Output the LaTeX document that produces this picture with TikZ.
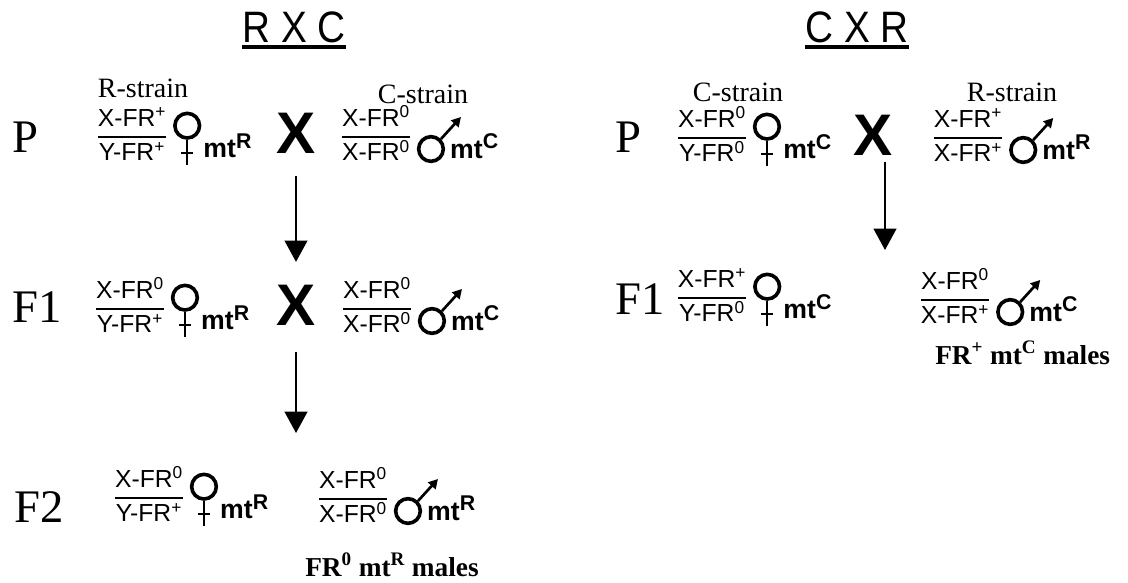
\documentclass[tikz,border=0pt]{standalone}
\usepackage{fontspec}
\setmainfont{Liberation Serif}
\newfontfamily\arial{Liberation Sans}
\usetikzlibrary{positioning,arrows.meta,calc}
\setlength{\arrayrulewidth}{2pt}
\newcommand{\gfrac}[2]{\begin{tabular}{@{}c@{}}#1\\\hline #2\end{tabular}}
\newcommand{\fp}{FR\textsuperscript{+}}
\newcommand{\fz}{FR\textsuperscript{0}}
\newcommand{\mtsup}[1]{mt\raisebox{7pt}{\fontsize{16}{16}\selectfont #1}}

\begin{document}
\begin{tikzpicture}[
  x=0.75pt, y=-0.75pt,
  gen/.style={font=\arial\fontsize{18.5}{24}\selectfont, inner sep=0pt},
  ttl/.style={font=\arial\fontsize{33}{36}\selectfont, inner sep=0pt, anchor=base},
  gener/.style={font=\fontsize{35}{38}\selectfont, inner sep=0pt, anchor=base west},
  strain/.style={font=\fontsize{21}{24}\selectfont, inner sep=0pt},
  cross/.style={font=\arial\bfseries\fontsize{44}{48}\selectfont, inner sep=0pt},
  venus/.style={circle, draw, line width=2.7pt, minimum size=18.5pt, inner sep=0pt},
  mars/.style={circle, draw, line width=2.7pt, minimum size=18.5pt, inner sep=0pt},
  stem/.style={line width=1.7pt},
  marsarr/.style={line width=2pt, -{Triangle[length=7pt, width=7.5pt]}},
  mtlab/.style={font=\arial\bfseries\fontsize{20}{22}\selectfont, inner sep=0pt, anchor=base west},
  males/.style={font=\bfseries\fontsize{20.5}{24}\selectfont, inner sep=0pt, anchor=base west},
  uline/.style={line width=2.4pt},
  arr/.style={line width=1.6pt, -{Triangle[length=16pt, width=17pt]}}
]
\useasboundingbox (0,0) rectangle (1128,582);
% titles
\node[ttl] (tRC) at (294,42) {\scalebox{0.88}[1]{R X C}};
\node[ttl] (tCR) at (857,42) {\scalebox{0.88}[1]{C X R}};
\draw[uline] ($(tRC.base west)+(0,5)$) -- ($(tRC.base east)+(0,5)$);
\draw[uline] ($(tCR.base west)+(0,5)$) -- ($(tCR.base east)+(0,5)$);
% generations
\node[gener] (gP)   at (12,152)  {P};
\node[gener] (gF1)  at (12,322)  {F1};
\node[gener] (gF2)  at (14,522)  {F2};
\node[gener] (gPr)  at (615,152) {P};
\node[gener] (gF1r) at (615,314) {F1};
% R x C, P
\node[strain] (sR) at (143,88) {R-strain};
\node[strain] (sC) at (423,94) {C-strain};
\node[gen] (pf) at (132,137) {\gfrac{X-\fp}{Y-\fp}};
\node[venus, right=5pt of pf, yshift=8.5pt] (pv) {};
\node[mtlab] (pvmt) at ($(pv.center)+(16,32)$) {\mtsup{R}};
\node[cross] (pX) at (296,133) {X};
\node[gen] (pm) at (376,137) {\gfrac{X-\fz}{X-\fz}};
\node[mars, right=5pt of pm, yshift=-9pt] (pa) {};
\node[mtlab] (pamt) at ($(pa.center)+(19,9)$) {\mtsup{C}};
% R x C, F1
\node[gen] (ff) at (130,309) {\gfrac{X-\fz}{Y-\fp}};
\node[venus, right=5pt of ff, yshift=8.5pt] (fv) {};
\node[mtlab] (fvmt) at ($(fv.center)+(16,32)$) {\mtsup{R}};
\node[cross] (fX) at (296,305) {X};
\node[gen] (fm) at (377,309) {\gfrac{X-\fz}{X-\fz}};
\node[mars, right=5pt of fm, yshift=-9pt] (fa) {};
\node[mtlab] (famt) at ($(fa.center)+(19,9)$) {\mtsup{C}};
% R x C, F2
\node[gen] (sf) at (149,498) {\gfrac{X-\fz}{Y-\fp}};
\node[venus, right=5pt of sf, yshift=8.5pt] (sv) {};
\node[mtlab] (svmt) at ($(sv.center)+(16,32)$) {\mtsup{R}};
\node[gen] (sm) at (353,499) {\gfrac{X-\fz}{X-\fz}};
\node[mars, right=5pt of sm, yshift=-9pt] (sa) {};
\node[mtlab] (samt) at ($(sa.center)+(19,9)$) {\mtsup{R}};
\node[males] (smales) at (305,576) {FR\textsuperscript{0} mt\textsuperscript{R} males};
% C x R, P
\node[strain] (rC) at (738,92) {C-strain};
\node[strain] (rR) at (1012,92) {R-strain};
\node[gen] (qf) at (712,138) {\gfrac{X-\fz}{Y-\fz}};
\node[venus, right=5pt of qf, yshift=8.5pt] (qv) {};
\node[mtlab] (qvmt) at ($(qv.center)+(16,32)$) {\mtsup{C}};
\node[cross] (qX) at (873,135) {X};
\node[gen] (qm) at (968,138) {\gfrac{X-\fp}{X-\fp}};
\node[mars, right=5pt of qm, yshift=-9pt] (qa) {};
\node[mtlab] (qamt) at ($(qa.center)+(19,9)$) {\mtsup{R}};
% C x R, F1
\node[gen] (rf) at (712,298) {\gfrac{X-\fp}{Y-\fz}};
\node[venus, right=5pt of rf, yshift=8.5pt] (rv) {};
\node[mtlab] (rvmt) at ($(rv.center)+(16,32)$) {\mtsup{C}};
\node[gen] (rm) at (955,300) {\gfrac{X-\fz}{X-\fp}};
\node[mars, right=5pt of rm, yshift=-9pt] (ra) {};
\node[mtlab] (ramt) at ($(ra.center)+(19,9)$) {\mtsup{C}};
\node[males] (rmales) at (935,364) {FR\textsuperscript{+} mt\textsuperscript{C} males};
% symbols
\foreach \v in {pv, fv, sv, qv, rv} {
  \draw[stem] (\v.south) -- ++(0,25);
  \draw[stem] ($(\v.south)+(-6,13)$) -- ++(12,0);
}
\foreach \a in {pa, fa, sa, qa, ra}
  \draw[marsarr] (\a.north east) -- ++(20,-22);
% crosses to offspring
\coordinate (stop) at (295,433);
\coordinate (qtip) at (885,250);
\draw[arr, shorten <=17pt, shorten >=17pt] (pX.south) -- (fX.north);
\draw[arr, shorten <=20pt] (fX.south) -- (fX.south |- stop);
\draw[arr, shorten <=5pt] (qX.south -| qtip) -- (qtip);
\end{tikzpicture}
\end{document}
